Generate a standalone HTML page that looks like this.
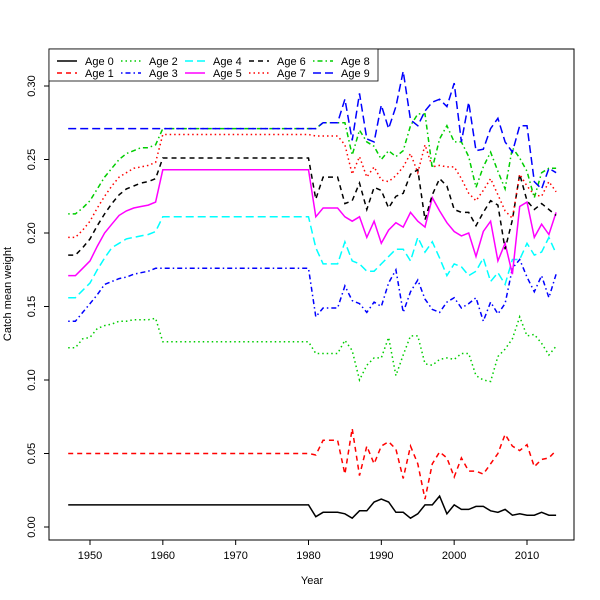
<!DOCTYPE html>
<html><head><meta charset="utf-8"><style>body{margin:0;background:#fff}svg{display:block}text{font-family:"Liberation Sans",sans-serif;font-size:11px}</style></head>
<body>
<svg id="s" width="600" height="600" xmlns="http://www.w3.org/2000/svg">
<rect x="49" y="49" width="525" height="491" fill="none" stroke="#000" stroke-width="1"/>
<g id="g"></g>
</svg>
<script>
const X=y=>90+(y-1950)*437/60, Y=v=>527-v*1470;
const ramp=(a,flat)=>a.concat(Array(21).fill(flat));
const D=[
Array(34).fill(.015).concat([.007,.010,.010,.010,.009,.006,.011,.011,.017,.019,.017,.010,.010,.006,.009,.015,.015,.021,.009,.015,.012,.012,.014,.014,.011,.010,.012,.008,.009,.008,.008,.010,.008,.008]),
Array(34).fill(.05).concat([.049,.059,.059,.059,.036,.067,.035,.055,.043,.055,.058,.053,.033,.055,.043,.019,.043,.051,.047,.034,.047,.038,.038,.036,.043,.050,.063,.055,.052,.056,.041,.046,.047,.052]),
ramp([.122,.122,.128,.129,.135,.137,.138,.140,.140,.141,.141,.141,.142],.126).concat([.118,.118,.118,.118,.127,.120,.100,.110,.115,.115,.129,.103,.117,.130,.130,.111,.110,.114,.115,.114,.118,.118,.103,.100,.099,.116,.121,.128,.143,.130,.131,.125,.117,.123]),
ramp([.140,.140,.146,.152,.158,.165,.167,.169,.170,.172,.173,.174,.176],.176).concat([.143,.149,.149,.149,.164,.154,.152,.146,.153,.150,.166,.175,.146,.160,.168,.155,.148,.146,.153,.156,.149,.152,.156,.140,.153,.145,.152,.176,.182,.170,.160,.171,.156,.172]),
ramp([.156,.156,.161,.166,.175,.183,.190,.193,.196,.197,.198,.199,.201],.211).concat([.190,.179,.179,.179,.194,.181,.179,.174,.174,.179,.184,.189,.189,.181,.197,.187,.194,.183,.171,.179,.177,.171,.174,.183,.167,.173,.165,.182,.182,.193,.185,.187,.197,.186]),
ramp([.171,.171,.176,.181,.191,.200,.206,.212,.215,.217,.218,.219,.221],.243).concat([.211,.217,.217,.217,.211,.208,.211,.197,.208,.193,.202,.207,.204,.214,.208,.204,.224,.215,.207,.201,.198,.200,.184,.201,.208,.181,.193,.172,.218,.221,.197,.206,.199,.214]),
ramp([.185,.185,.190,.196,.205,.213,.220,.226,.230,.232,.234,.235,.237],.251).concat([.223,.238,.238,.238,.220,.222,.234,.216,.231,.229,.217,.225,.227,.240,.243,.209,.226,.237,.232,.216,.214,.214,.205,.214,.222,.219,.189,.209,.240,.222,.216,.220,.216,.212]),
ramp([.197,.197,.202,.208,.217,.225,.232,.238,.241,.244,.245,.246,.248],.267).concat([.266,.266,.266,.266,.260,.240,.252,.238,.245,.236,.235,.239,.245,.254,.241,.260,.245,.246,.245,.245,.237,.227,.222,.229,.237,.226,.215,.210,.240,.232,.226,.225,.235,.228]),
ramp([.213,.213,.217,.222,.230,.238,.244,.250,.254,.256,.258,.258,.260],.271).concat([.271,.275,.275,.275,.275,.253,.270,.262,.259,.250,.256,.252,.256,.273,.281,.281,.244,.264,.273,.262,.262,.252,.231,.245,.255,.242,.230,.258,.251,.242,.224,.241,.244,.244]),
Array(34).fill(.271).concat([.271,.275,.275,.275,.291,.263,.295,.264,.262,.287,.271,.286,.310,.277,.273,.283,.289,.291,.286,.302,.262,.289,.256,.257,.271,.278,.262,.255,.273,.273,.235,.230,.244,.241])
];
const C=["#000","#f00","#00cd00","#00f","#0ff","#f0f","#000","#f00","#00cd00","#00f"];
const L=["","5,4","1.5,3","1.5,3,5,3","8,4","","5,4","1.5,3","1.5,3,5,3","8,4"];
let h="";
D.forEach((d,i)=>{let p=d.slice(0,68).map((v,k)=>X(1947+k).toFixed(1)+","+Y(v).toFixed(1)).join(" ");
h+=`<polyline points="${p}" fill="none" stroke="${C[i]}" stroke-width="1.5" stroke-dasharray="${L[i]}"/>`;});
for(let yr=1950;yr<=2010;yr+=10){h+=`<line x1="${X(yr)}" y1="540" x2="${X(yr)}" y2="545" stroke="#000"/><text x="${X(yr)}" y="559" text-anchor="middle">${yr}</text>`;}
for(let k=0;k<=6;k++){let v=k*.05,y=Y(v);h+=`<line x1="44" y1="${y}" x2="49" y2="${y}" stroke="#000"/><text transform="translate(35,${y}) rotate(-90)" text-anchor="middle">${v.toFixed(2)}</text>`;}
h+=`<text x="312" y="584" text-anchor="middle">Year</text><text transform="translate(11,294) rotate(-90)" text-anchor="middle">Catch mean weight</text>`;
h+=`<rect x="49" y="49" width="329" height="32" fill="#fff" stroke="#000" stroke-width="0.8"/>`;
for(let i=0;i<10;i++){let c=Math.floor(i/2),r=i%2,x=57+c*64,y=61+r*12;
h+=`<line x1="${x}" y1="${y}" x2="${x+20}" y2="${y}" stroke="${C[i]}" stroke-width="1.5" stroke-dasharray="${L[i]}"/><text x="${x+28}" y="${y+4}">Age ${i}</text>`;}
document.getElementById("g").innerHTML=h;
</script>
</body></html>
